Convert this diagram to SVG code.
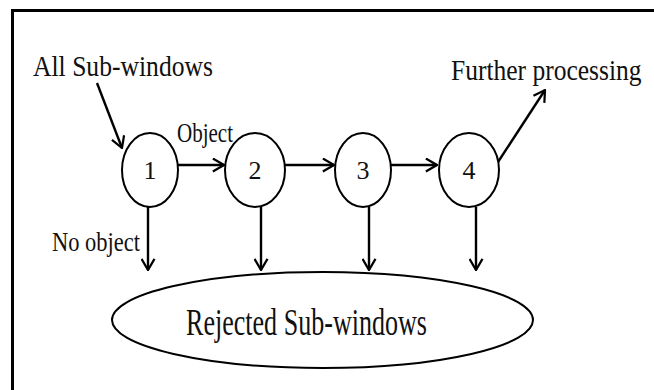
<svg xmlns="http://www.w3.org/2000/svg" width="654" height="390" viewBox="0 0 654 390">
  <defs>
    <marker id="arr" viewBox="0 0 14 16" refX="13" refY="8" markerWidth="13" markerHeight="15" markerUnits="userSpaceOnUse" orient="auto">
      <path d="M1,1 L13,8 L1,15" fill="none" stroke="#000" stroke-width="2.4" stroke-linejoin="miter"/>
    </marker>
  </defs>
  <style>
    .t { font-family: "Liberation Serif", "Times New Roman", serif; fill: #111; }
    .n { fill: #fff; stroke: #000; stroke-width: 2; }
    .c { fill: none; stroke: #000; stroke-width: 2.4; marker-end: url(#arr); }
  </style>
  <rect width="654" height="390" fill="#fff"/>
  <g id="frame">
    <path d="M12.5,390 L12.5,10.5 L654,10.5" fill="none" stroke="#000" stroke-width="3"/>
  </g>
  <g id="connectors">
    <path class="c" d="M97,83 L122,148"/>
    <path class="c" d="M178,165 L224,165"/>
    <path class="c" d="M285,165 L334,165"/>
    <path class="c" d="M391,165 L437,165"/>
    <path class="c" d="M498,162 L545,90"/>
    <path class="c" d="M148,207 L148,270"/>
    <path class="c" d="M261,207 L261,270"/>
    <path class="c" d="M369,207 L369,270"/>
    <path class="c" d="M476,207 L476,270"/>
  </g>
  <g id="node1">
    <ellipse class="n" cx="150" cy="170" rx="28" ry="37"/>
    <text class="t" x="150" y="179" font-size="26" text-anchor="middle">1</text>
  </g>
  <g id="node2">
    <ellipse class="n" cx="255" cy="170" rx="30" ry="37"/>
    <text class="t" x="255" y="179" font-size="26" text-anchor="middle">2</text>
  </g>
  <g id="node3">
    <ellipse class="n" cx="363" cy="170" rx="28" ry="37"/>
    <text class="t" x="363" y="179" font-size="26" text-anchor="middle">3</text>
  </g>
  <g id="node4">
    <ellipse class="n" cx="469" cy="170" rx="30" ry="37"/>
    <text class="t" x="469" y="179" font-size="26" text-anchor="middle">4</text>
  </g>
  <g id="rejected">
    <ellipse class="n" cx="322.5" cy="320" rx="210.5" ry="48"/>
    <text class="t" x="186" y="335" font-size="37" textLength="241" lengthAdjust="spacingAndGlyphs">Rejected Sub-windows</text>
  </g>
  <g id="labels">
    <text class="t" x="33" y="76" font-size="29" textLength="180" lengthAdjust="spacingAndGlyphs">All Sub-windows</text>
    <text class="t" x="177" y="142" font-size="27" textLength="56" lengthAdjust="spacingAndGlyphs">Object</text>
    <text class="t" transform="translate(451,80) scale(0.88,1)" x="0" y="0" font-size="29">Further processing</text>
    <text class="t" x="52" y="251" font-size="28" textLength="88" lengthAdjust="spacingAndGlyphs">No object</text>
  </g>
</svg>
